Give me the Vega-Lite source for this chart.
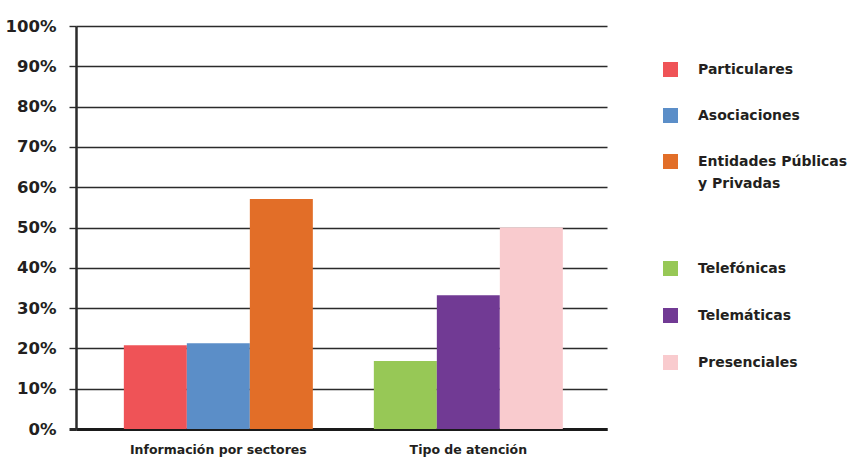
{
  "$schema": "https://vega.github.io/schema/vega-lite/v6.json",
  "width": 531,
  "height": 403,
  "autosize": "none",
  "padding": {"left": 76, "top": 26, "right": 244, "bottom": 30},
  "background": "white",
  "data": {
    "values": [
      {"grupo": "Información por sectores", "categoria": "Particulares", "valor": 20.8},
      {"grupo": "Información por sectores", "categoria": "Asociaciones", "valor": 21.3},
      {"grupo": "Información por sectores", "categoria": "Entidades Públicas y Privadas", "valor": 57.1},
      {"grupo": "Tipo de atención", "categoria": "Telefónicas", "valor": 16.9},
      {"grupo": "Tipo de atención", "categoria": "Telemáticas", "valor": 33.2},
      {"grupo": "Tipo de atención", "categoria": "Presenciales", "valor": 50.0}
    ]
  },
  "encoding": {
    "x": {
      "field": "grupo",
      "type": "nominal",
      "sort": ["Información por sectores", "Tipo de atención"],
      "scale": {"paddingInner": 0.244, "paddingOuter": 0.184, "align": 0.52},
      "axis": {
        "title": null,
        "ticks": false,
        "labelAngle": 0,
        "labelPadding": 14,
        "labelFontSize": 12.5,
        "labelFont": "DejaVu Sans",
        "labelFontWeight": "bold",
        "labelColor": "#231f20",
        "domainColor": "#1a1a1a",
        "domainWidth": 3
      }
    },
    "y": {
      "field": "valor",
      "type": "quantitative",
      "scale": {"domain": [0, 100], "nice": false},
      "axis": {
        "title": null,
        "values": [0, 10, 20, 30, 40, 50, 60, 70, 80, 90, 100],
        "labelExpr": "datum.value + '%'",
        "labelFontSize": 16.5,
        "labelFont": "DejaVu Sans",
        "labelFontWeight": "bold",
        "labelColor": "#231f20",
        "labelPadding": 13,
        "tickSize": 7,
        "tickColor": "#2b2b2b",
        "tickWidth": {"condition": {"test": "datum.value === 0", "value": 3}, "value": 1.4},
        "grid": true,
        "gridColor": "#2b2b2b",
        "gridOpacity": 1,
        "gridWidth": {"condition": {"test": "datum.value === 0", "value": 3}, "value": 1.4},
        "domainColor": "#2b2b2b",
        "domainWidth": 2.5
      }
    }
  },
  "layer": [
    {
      "transform": [{"filter": "datum.grupo === 'Información por sectores'"}],
      "mark": {"type": "bar"},
      "encoding": {
        "xOffset": {
          "field": "categoria",
          "type": "nominal",
          "sort": ["Particulares", "Asociaciones", "Entidades Públicas y Privadas"],
          "scale": {"paddingInner": 0, "paddingOuter": 0}
        },
        "color": {
          "field": "categoria",
          "type": "nominal",
          "scale": {
            "domain": ["Particulares", "Asociaciones", "Entidades Públicas y Privadas"],
            "range": ["#ef5357", "#5b8ec8", "#e26e28"]
          },
          "legend": {
            "title": null,
            "orient": "none",
            "legendX": 587,
            "legendY": 36,
            "padding": 0,
            "symbolType": "square",
            "symbolSize": 225,
            "symbolStrokeWidth": 0,
            "symbolOpacity": 1,
            "labelOffset": 20,
            "rowPadding": 31,
            "labelFont": "DejaVu Sans",
            "labelFontSize": 14,
            "labelFontWeight": "bold",
            "labelColor": "#231f20",
            "labelLimit": 300,
            "labelExpr": "datum.label === 'Entidades Públicas y Privadas' ? ['Entidades Públicas', 'y Privadas'] : datum.label"
          }
        }
      }
    },
    {
      "transform": [{"filter": "datum.grupo === 'Tipo de atención'"}],
      "mark": {"type": "bar"},
      "encoding": {
        "xOffset": {
          "field": "categoria",
          "type": "nominal",
          "sort": ["Telefónicas", "Telemáticas", "Presenciales"],
          "scale": {"paddingInner": 0, "paddingOuter": 0}
        },
        "color": {
          "field": "categoria",
          "type": "nominal",
          "scale": {
            "domain": ["Telefónicas", "Telemáticas", "Presenciales"],
            "range": ["#97c856", "#713a94", "#f9cbce"]
          },
          "legend": {
            "title": null,
            "orient": "none",
            "legendX": 587,
            "legendY": 235,
            "padding": 0,
            "symbolType": "square",
            "symbolSize": 225,
            "symbolStrokeWidth": 0,
            "symbolOpacity": 1,
            "labelOffset": 20,
            "rowPadding": 32,
            "labelFont": "DejaVu Sans",
            "labelFontSize": 14,
            "labelFontWeight": "bold",
            "labelColor": "#231f20",
            "labelLimit": 300
          }
        }
      }
    }
  ],
  "resolve": {"scale": {"color": "independent", "xOffset": "independent"}},
  "config": {
    "view": {"stroke": null},
    "style": {"guide-label": {"lineHeight": 22}}
  }
}
